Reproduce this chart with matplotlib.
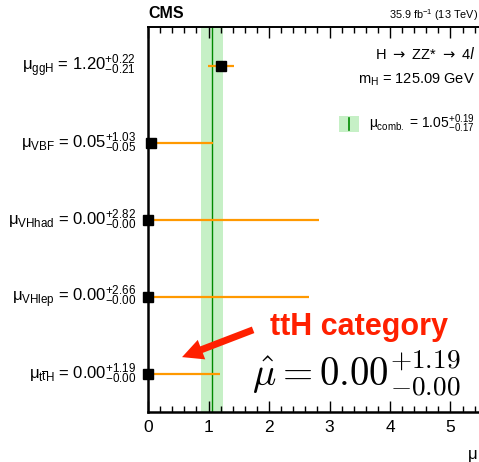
import matplotlib
matplotlib.use("Agg")
import matplotlib.pyplot as plt
from matplotlib.ticker import MultipleLocator
from matplotlib.transforms import blended_transform_factory

plt.rcParams["font.family"] = ["Liberation Sans", "DejaVu Sans"]
plt.rcParams["mathtext.fontset"] = "custom"
plt.rcParams["mathtext.rm"] = "Liberation Sans"
plt.rcParams["mathtext.it"] = "Liberation Sans"
plt.rcParams["mathtext.sf"] = "Liberation Sans:italic"
plt.rcParams["mathtext.bf"] = "Liberation Sans:bold"

# signal strength per production category (top to bottom)
categories = ["ggH", "VBF", "VHhad", "VHlep", r"t\overline{t}H"]
mu = [1.20, 0.05, 0.00, 0.00, 0.00]
err_up = [0.22, 1.03, 2.82, 2.66, 1.19]
err_dn = [0.21, 0.05, 0.00, 0.00, 0.00]

# combined fit
mu_comb = 1.05
comb_up = 0.19
comb_dn = 0.17

orange = "#ff9900"
band_green = "#c6f0c6"
line_green = "#008a00"
red = "#ff2000"

x_max = 5.6
fig = plt.figure(figsize=(4.79, 4.62), dpi=100)
ax = fig.add_axes([148 / 479, 50 / 462, x_max * 60.5 / 479, 385 / 462])

n = len(categories)
ypos = [n - 1 - i for i in range(n)]

ax.axvspan(mu_comb - comb_dn, mu_comb + comb_up, color=band_green, lw=0, zorder=1)
ax.axvline(mu_comb, color=line_green, lw=1.0, zorder=2)

ax.errorbar(mu, ypos, xerr=[err_dn, err_up], fmt="none", ecolor=orange,
            elinewidth=1.6, capsize=0, zorder=3, clip_on=False)
ax.plot(mu, ypos, "s", color="black", ms=7, zorder=4, clip_on=False)

ax.set_xlim(0, x_max)
ax.set_ylim(-0.5, n - 0.5)
ax.xaxis.set_major_locator(MultipleLocator(1))
ax.xaxis.set_minor_locator(MultipleLocator(0.2))
ax.tick_params(axis="x", which="both", direction="in", top=True, labelsize=12.5, pad=6)
ax.tick_params(axis="x", which="major", length=8, width=1)
ax.tick_params(axis="x", which="minor", length=4.5, width=1)
ax.set_yticks([])
for side in ["left", "bottom"]:
    ax.spines[side].set_linewidth(1.8)
ax.spines["top"].set_linewidth(1.4)
ax.spines["right"].set_visible(False)

# category labels on the left
trans = blended_transform_factory(fig.transFigure, ax.transData)
for cat, m, up, dn, y in zip(categories, mu, err_up, err_dn, ypos):
    label = r"$\mu_{\mathrm{%s}}$ = %.2f$^{+%.2f}_{-%.2f}$" % (cat, m, up, dn)
    ax.text(136 / 479, y, label, transform=trans, ha="right", va="center",
            fontsize=12, clip_on=False)

# header
fig.text(148 / 479, 456 / 462, "CMS", fontsize=11.5, fontweight="bold",
         ha="left", va="top")
fig.text(478 / 479, 455 / 462, r"35.9 fb$^{-1}$ (13 TeV)", fontsize=7.8,
         ha="right", va="top")

fig.text(475 / 479, 1 - 54 / 462, r"H $\rightarrow$ ZZ* $\rightarrow$ 4$\mathit{l}$",
         ha="right", va="center", fontsize=10.5, math_fontfamily="dejavusans")
fig.text(475 / 479, 1 - 80 / 462, r"m$_{\mathrm{H}}$ = 125.09 GeV",
         ha="right", va="center", fontsize=10.5)

# legend for the combined result
fig.patches.append(plt.Rectangle((339 / 479, 1 - 132 / 462), 20 / 479, 16 / 462,
                                 transform=fig.transFigure, color=band_green, lw=0))
fig.lines.append(plt.Line2D([349 / 479, 349 / 479], [1 - 130 / 462, 1 - 118 / 462],
                            transform=fig.transFigure, color=line_green, lw=1.2))
fig.text(475 / 479, 1 - 124 / 462,
         r"$\mu_{\mathrm{comb.}}$ = %.2f$^{+%.2f}_{-%.2f}$" % (mu_comb, comb_up, comb_dn),
         ha="right", va="center", fontsize=10)

# ttH callout
ttH_y = ypos[-1]
ax.annotate("", xy=(0.52, ttH_y + 0.2), xytext=(1.78, ttH_y + 0.58),
            arrowprops=dict(arrowstyle="simple,head_width=1.5,head_length=1.5,tail_width=0.5",
                            color=red, lw=0), zorder=5)
ax.text(2.02, ttH_y + 0.6, "ttH category", color=red, fontsize=22,
        fontweight="bold", ha="left", va="center", zorder=5)
ax.text(1.72, ttH_y + 0.0,
        r"$\hat{\mu} = %.2f^{+%.2f}_{-%.2f}$" % (mu[-1], err_up[-1], err_dn[-1]),
        fontsize=28, math_fontfamily="cm", ha="left", va="center", zorder=5)

fig.text(468 / 479, 1 - 455 / 462, "μ", fontsize=12, ha="left", va="center")

fig.savefig("out.png", dpi=100)
